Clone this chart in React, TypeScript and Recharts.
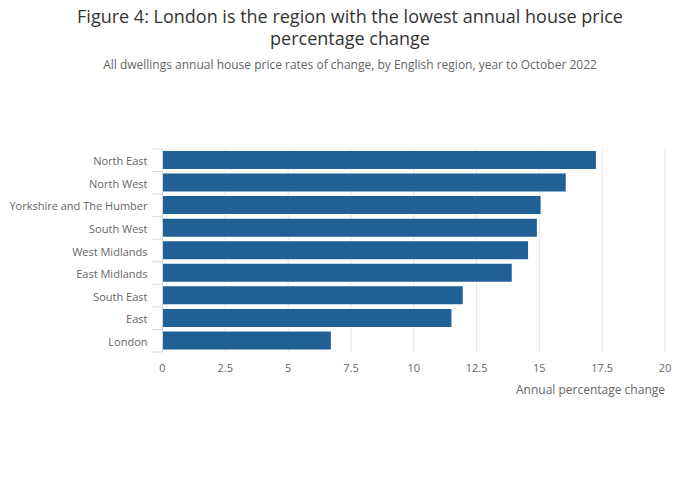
import { Bar, BarChart, CartesianGrid, XAxis, YAxis } from "recharts";

const regions = [
  "North East",
  "North West",
  "Yorkshire and The Humber",
  "South West",
  "West Midlands",
  "East Midlands",
  "South East",
  "East",
  "London",
];
const changes = [17.25, 16.05, 15.05, 14.9, 14.55, 13.9, 11.95, 11.5, 6.7];
const xTicks = [0, 2.5, 5, 7.5, 10, 12.5, 15, 17.5, 20];

const data = regions.map((name, i) => ({ name, value: changes[i] }));

const FONT = "'Open Sans', sans-serif";
const BAND = 203 / regions.length;

const RegionTick = (props: any) => {
  const { x, y, payload, index } = props;
  const top = y - BAND / 2;
  const bottom = y + BAND / 2;
  return (
    <g>
      <line x1={x - 2} x2={x + 7.5} y1={top} y2={top} stroke="#ccd6eb" />
      {index === regions.length - 1 && (
        <line x1={x - 2} x2={x + 7.5} y1={bottom} y2={bottom} stroke="#ccd6eb" />
      )}
      <text x={x - 7} y={y} dy={5} textAnchor="end" fontSize={11} fill="#666" fontFamily={FONT}>
        {payload.value}
      </text>
    </g>
  );
};

export default function App() {
  return (
    <div style={{ position: "absolute", left: 0, top: 0, width: 700, height: 502, fontFamily: FONT }}>
      <div style={{ position: "absolute", top: 6, width: 700, textAlign: "center", fontSize: 18, lineHeight: "21px", color: "#333" }}>
        Figure 4: London is the region with the lowest annual house price
      </div>
      <div style={{ position: "absolute", top: 28, width: 700, textAlign: "center", fontSize: 18, lineHeight: "21px", color: "#333" }}>
        percentage change
      </div>
      <div style={{ position: "absolute", top: 56, width: 700, textAlign: "center", fontSize: 12, color: "#666" }}>
        All dwellings annual house price rates of change, by English region, year to October 2022
      </div>
      <BarChart
        width={700}
        height={502}
        data={data}
        layout="vertical"
        margin={{ top: 149, right: 35, bottom: 120, left: 0 }}
        barSize={18}
      >
        <CartesianGrid horizontal={false} stroke="#e6e6e6" />
        <XAxis
          type="number"
          domain={[0, 20]}
          ticks={xTicks}
          axisLine={false}
          tickLine={false}
          tickSize={10}
          tick={{ fontSize: 11, fill: "#666", fontFamily: FONT }}
          height={30}
        />
        <YAxis
          type="category"
          dataKey="name"
          width={162.5}
          axisLine={{ stroke: "#ccd6eb" }}
          tickLine={false}
          tick={<RegionTick />}
          interval={0}
        />
        <Bar dataKey="value" fill="#206095" isAnimationActive={false} />
      </BarChart>
      <div style={{ position: "absolute", top: 381, right: 35, fontSize: 12, color: "#666" }}>
        Annual percentage change
      </div>
    </div>
  );
}
